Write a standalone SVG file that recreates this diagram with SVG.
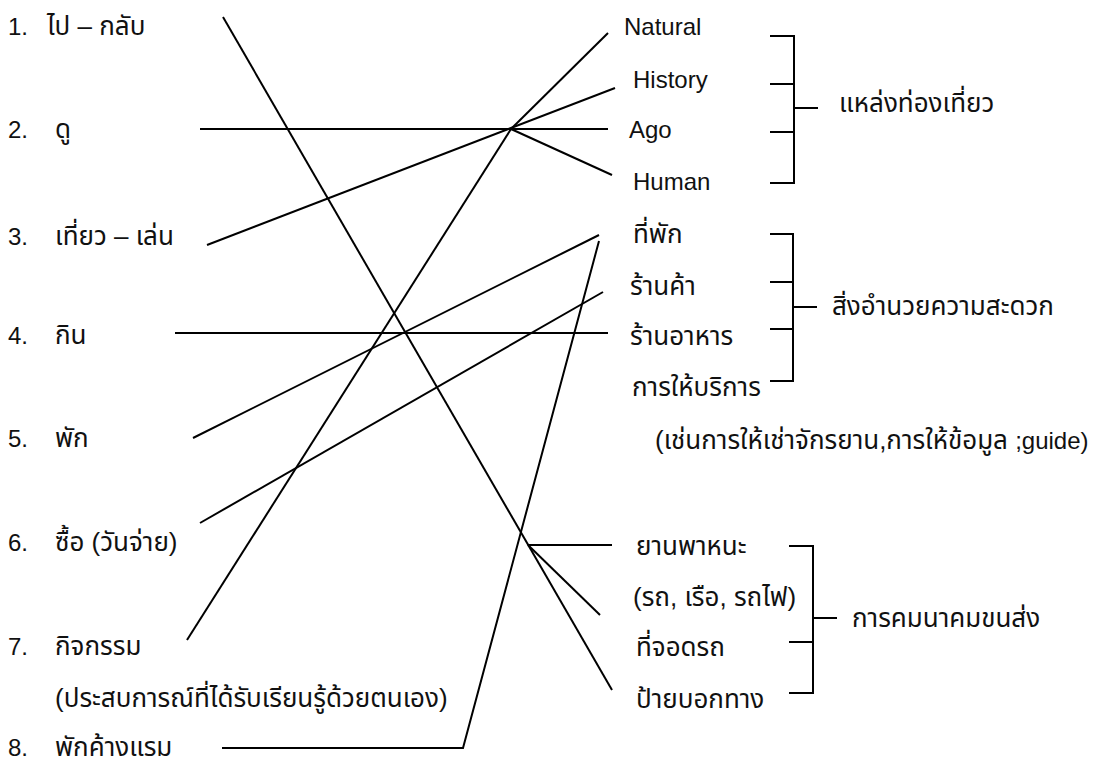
<svg xmlns="http://www.w3.org/2000/svg" width="1113" height="760" viewBox="0 0 1113 760">
<style>
text{font-family:"Liberation Sans","Noto Sans Thai","Noto Sans",sans-serif;font-size:24px;fill:#111}
.t{font-size:26px}
.l{font-size:24px}
.c line,.c polyline,.b line{stroke:#000;stroke-width:2;fill:none}
</style>
<rect width="1113" height="760" fill="#fff"/>
<g id="left">
<g id="n1"><text x="8" y="35">1.</text><text class="t" x="47" y="35">ไป – กลับ</text></g>
<g id="n2"><text x="8" y="138">2.</text><text class="t" x="55" y="138">ดู</text></g>
<g id="n3"><text x="8" y="245">3.</text><text class="t" x="55" y="245">เที่ยว – เล่น</text></g>
<g id="n4"><text x="8" y="344">4.</text><text class="t" x="55" y="344">กิน</text></g>
<g id="n5"><text x="8" y="447">5.</text><text class="t" x="55" y="447">พัก</text></g>
<g id="n6"><text x="8" y="551">6.</text><text class="t" x="55" y="551">ซื้อ (วันจ่าย)</text></g>
<g id="n7"><text x="8" y="655">7.</text><text class="t" x="55" y="655">กิจกรรม</text><text class="t" x="55" y="707">(ประสบการณ์ที่ได้รับเรียนรู้ด้วยตนเอง)</text></g>
<g id="n8"><text x="8" y="756">8.</text><text class="t" x="55" y="756">พักค้างแรม</text></g>
</g>
<g id="right">
<g id="r1"><text x="624" y="35">Natural</text></g>
<g id="r2"><text x="633" y="88">History</text></g>
<g id="r3"><text x="629" y="138">Ago</text></g>
<g id="r4"><text x="633" y="190">Human</text></g>
<g id="r5"><text class="t" x="633" y="243">ที่พัก</text></g>
<g id="r6"><text class="t" x="630" y="295">ร้านค้า</text></g>
<g id="r7"><text class="t" x="630" y="345">ร้านอาหาร</text></g>
<g id="r8"><text class="t" x="632" y="396">การให้บริการ</text></g>
<g id="r9"><text class="t" x="655" y="449">(เช่นการให้เช่าจักรยาน,การให้ข้อมูล <tspan class="l">;guide)</tspan></text></g>
<g id="r10"><text class="t" x="636" y="555">ยานพาหนะ</text></g>
<g id="r11"><text class="t" x="633" y="606">(รถ, เรือ, รถไฟ)</text></g>
<g id="r12"><text class="t" x="636" y="656">ที่จอดรถ</text></g>
<g id="r13"><text class="t" x="636" y="708">ป้ายบอกทาง</text></g>
</g>
<g id="groups" class="b">
<g id="g1"><line x1="770" y1="36" x2="794" y2="36"/><line x1="770" y1="84" x2="794" y2="84"/><line x1="770" y1="132" x2="794" y2="132"/><line x1="770" y1="183" x2="794" y2="183"/><line x1="794" y1="35" x2="794" y2="184"/><line x1="794" y1="108" x2="818" y2="108"/><text class="t" x="839" y="112">แหล่งท่องเที่ยว</text></g>
<g id="g2"><line x1="770" y1="234" x2="793" y2="234"/><line x1="770" y1="282" x2="793" y2="282"/><line x1="770" y1="329" x2="793" y2="329"/><line x1="770" y1="381" x2="793" y2="381"/><line x1="793" y1="233" x2="793" y2="382"/><line x1="793" y1="307" x2="817" y2="307"/><text class="t" x="832" y="315">สิ่งอำนวยความสะดวก</text></g>
<g id="g3"><line x1="789" y1="546" x2="813" y2="546"/><line x1="789" y1="642" x2="813" y2="642"/><line x1="789" y1="693" x2="813" y2="693"/><line x1="813" y1="545" x2="813" y2="694"/><line x1="813" y1="618" x2="837" y2="618"/><text class="t" x="852" y="627">การคมนาคมขนส่ง</text></g>
</g>
<g id="connectors" class="c">
<line x1="223" y1="17" x2="612" y2="690"/>
<line x1="200" y1="129" x2="608" y2="129"/>
<line x1="207" y1="245" x2="615" y2="88"/>
<line x1="511" y1="129" x2="608" y2="33"/>
<line x1="511" y1="129" x2="612" y2="175"/>
<line x1="175" y1="333" x2="608" y2="333"/>
<line x1="193" y1="438" x2="599" y2="235"/>
<line x1="200" y1="523" x2="603" y2="292"/>
<polyline points="187,640 511,129"/>
<polyline points="222,748 463,748 599,241"/>
<line x1="528" y1="545" x2="612" y2="545"/>
<line x1="528" y1="545" x2="600" y2="615"/>
</g>
</svg>
